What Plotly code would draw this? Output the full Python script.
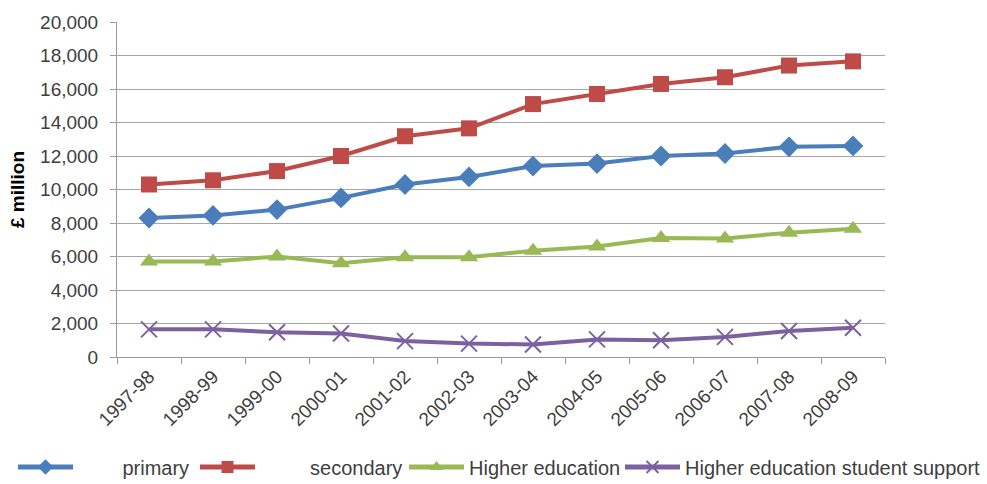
import plotly.graph_objects as go

years = ["1997-98", "1998-99", "1999-00", "2000-01", "2001-02", "2002-03",
         "2003-04", "2004-05", "2005-06", "2006-07", "2007-08", "2008-09"]
primary = [8300, 8450, 8800, 9500, 10300, 10750, 11400, 11550, 12000, 12150, 12550, 12600]
secondary = [10300, 10550, 11100, 12000, 13180, 13650, 15100, 15700, 16300, 16700, 17400, 17650]
higher_ed = [5700, 5700, 6000, 5600, 5950, 5950, 6350, 6600, 7100, 7080, 7420, 7650]
student_support = [1650, 1650, 1480, 1400, 950, 800, 750, 1050, 1000, 1200, 1550, 1750]
y_ticks = [0, 2000, 4000, 6000, 8000, 10000, 12000, 14000, 16000, 18000, 20000]

FONT = "Liberation Sans, Arial, sans-serif"
NB = "\u00a0"
series = [
    ("primary", NB * 8, primary, "#4a7ebb", "diamond", "legend2"),
    ("secondary", NB * 9, secondary, "#be4b48", "square", "legend3"),
    ("Higher education", "", higher_ed, "#98b954", "triangle-up", "legend4"),
    ("Higher education student support", "", student_support, "#7d60a0", "x-thin-open", "legend5"),
]

fig = go.Figure()
for name, pad, vals, col, sym, lg in series:
    mk = dict(symbol=sym, size=16, color=col)
    if sym == "x-thin-open":
        mk = dict(symbol=sym, size=16, color=col, line=dict(color=col, width=2))
    fig.add_trace(go.Scatter(x=years, y=vals, name=pad + name, mode="lines+markers",
                             line=dict(color=col, width=4), marker=mk, legend=lg))

legend_common = dict(orientation="h", yanchor="middle", y=(484 - 467) / 484,
                     xanchor="left", xref="container", yref="container",
                     font=dict(family=FONT, size=20, color="#404040"),
                     bgcolor="rgba(0,0,0,0)", itemwidth=55, tracegroupgap=0,
                     itemsizing="constant")

fig.update_layout(
    width=987, height=484,
    margin=dict(l=117, r=102, t=20, b=127),
    paper_bgcolor="white", plot_bgcolor="white",
    font=dict(family=FONT, size=18, color="#404040"),
    showlegend=True,
    legend=dict(visible=False),
    legend2=dict(legend_common, x=13 / 987),
    legend3=dict(legend_common, x=195 / 987),
    legend4=dict(legend_common, x=404 / 987),
    legend5=dict(legend_common, x=620 / 987),
    xaxis=dict(type="category", range=[-0.5, 11.5], tickangle=-45,
               showgrid=False, showline=True, linecolor="#9a9a9a", linewidth=1,
               ticks="outside", tickson="boundaries", ticklen=6, tickcolor="#9a9a9a",
               tickfont=dict(family=FONT, size=19, color="#404040")),
    yaxis=dict(range=[0, 20000], tickvals=y_ticks, tickformat=",d",
               showgrid=True, gridcolor="#a6a6a6", gridwidth=1,
               showline=True, linecolor="#9a9a9a", linewidth=1,
               ticks="outside", ticklen=6, tickcolor="#9a9a9a", zeroline=False,
               ticklabelstandoff=8,
               tickfont=dict(family=FONT, size=19, color="#404040"),
               title=dict(text="<b>£ million</b>", standoff=10,
                          font=dict(family=FONT, size=19, color="#000000"))),
)

fig.write_html("out.html")
